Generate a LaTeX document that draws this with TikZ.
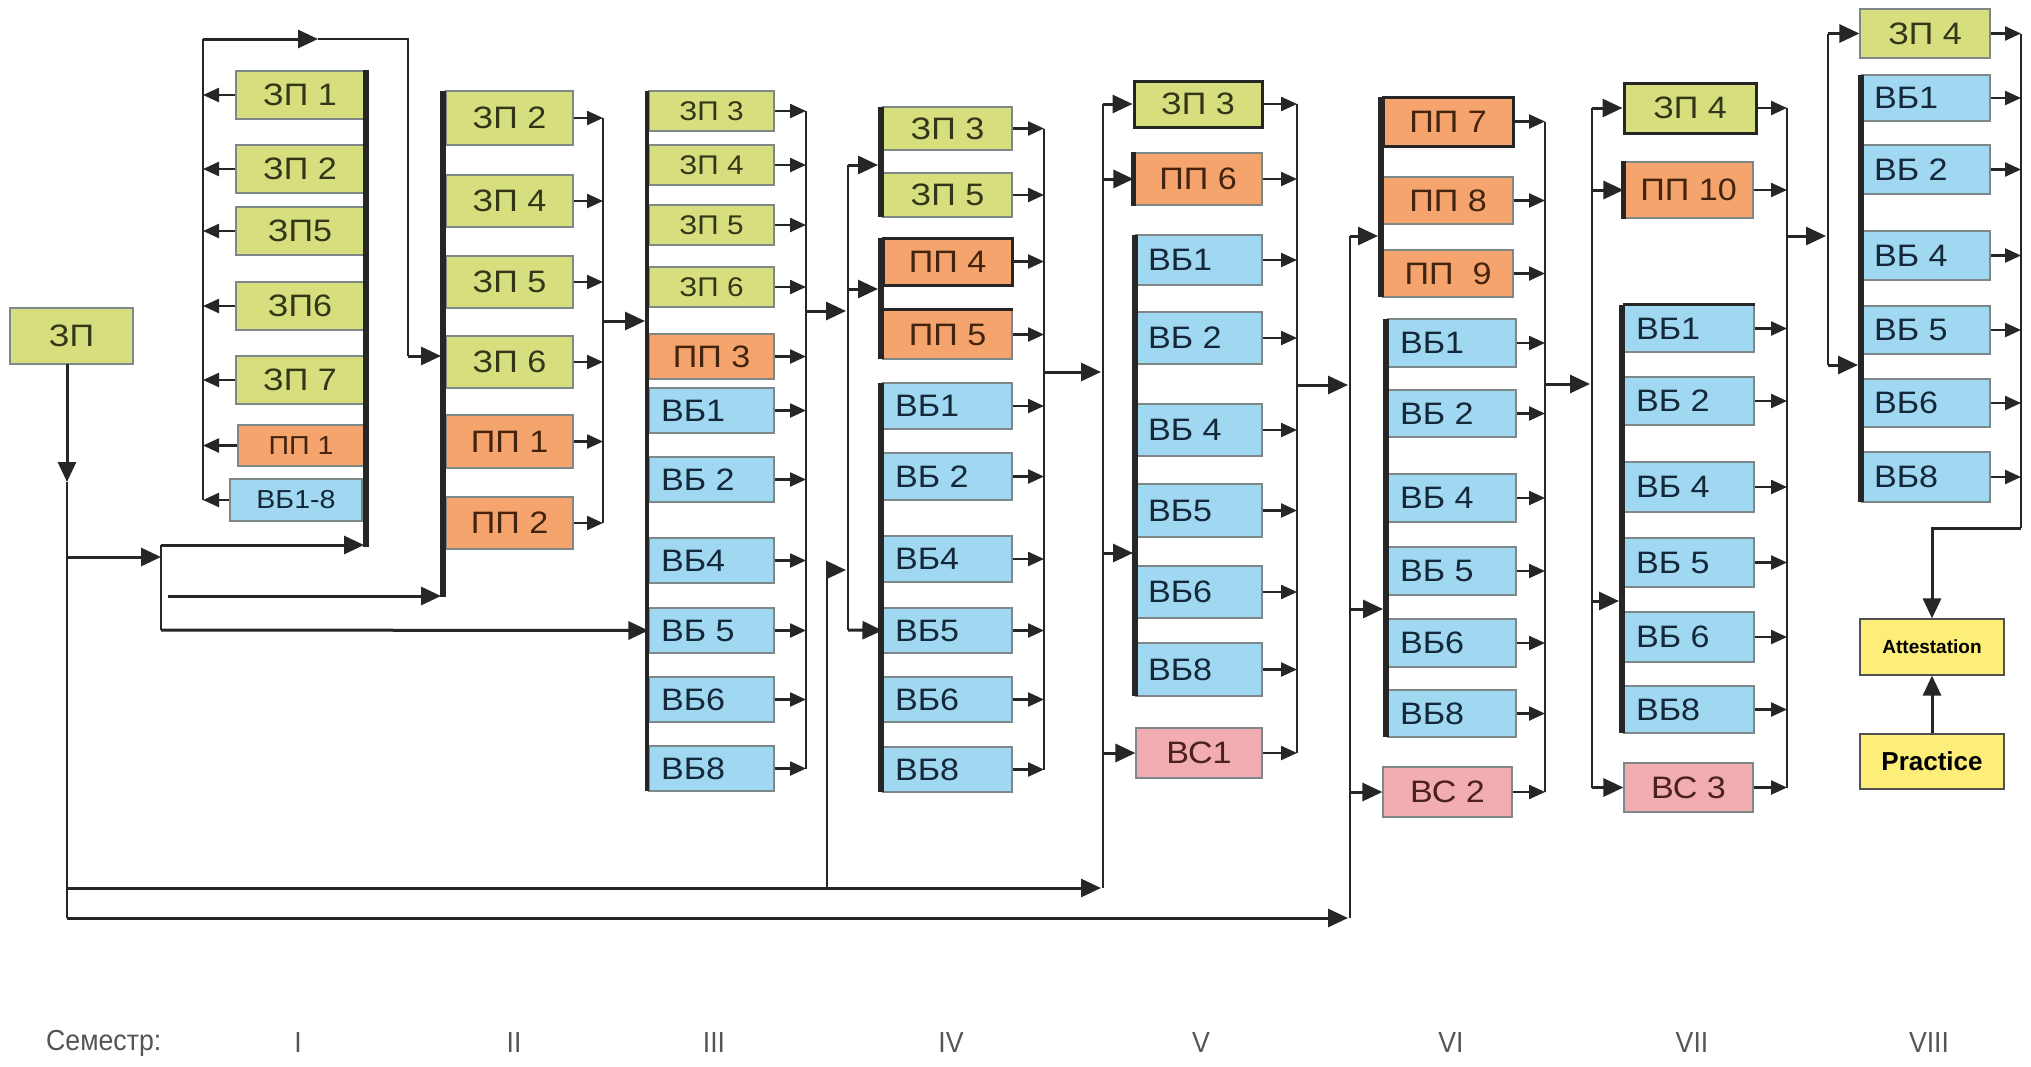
\documentclass[tikz,border=0pt]{standalone}
\usepackage{fontspec}
\setmainfont{Liberation Sans}[FakeStretch=1.1]
\newfontfamily\semfont{Liberation Sans}[FakeStretch=0.92]
\newfontfamily\plainsans{Liberation Sans}
\usetikzlibrary{arrows.meta}
\definecolor{zpc}{HTML}{D6DE7E}
\definecolor{ppc}{HTML}{F4A46C}
\definecolor{vbc}{HTML}{A0D7F1}
\definecolor{vsc}{HTML}{F2ADB3}
\definecolor{ylc}{HTML}{FCEE78}
\definecolor{bord}{HTML}{7F8888}
\definecolor{ink}{HTML}{262626}
\definecolor{zpt}{HTML}{34361A}
\definecolor{ppt}{HTML}{43240F}
\definecolor{vbt}{HTML}{14283A}
\definecolor{vst}{HTML}{4A2020}
\definecolor{semc}{HTML}{555555}
\newcommand\bx[7]{\pgfmathsetmacro\bxw{#4-#2}\pgfmathsetmacro\bxh{#5-#3}%
  \node[box,#6,minimum width=\bxw pt,minimum height=\bxh pt] (#1) at ({(#2+#4)/2},{(#3+#5)/2}) {#7};}
\newcommand\bl[7]{\pgfmathsetmacro\bxw{#4-#2}\pgfmathsetmacro\bxh{#5-#3}%
  \node[box,#6,minimum width=\bxw pt,minimum height=\bxh pt] (#1) at ({(#2+#4)/2},{(#3+#5)/2}) {\makebox[\dimexpr\bxw pt-24pt\relax][l]{#7}};}
\begin{document}
\begin{tikzpicture}[x=1pt,y=-1pt,
  box/.style={draw=bord,line width=1.2pt,inner sep=0pt,font=\fontsize{31}{33}\selectfont},
  zp/.style={fill=zpc,text=zpt},
  zps/.style={fill=zpc,text=zpt,font=\fontsize{27}{29}\selectfont},
  pp/.style={fill=ppc,text=ppt},
  vb/.style={fill=vbc,text=vbt},
  vs/.style={fill=vsc,text=vst},
  yl/.style={fill=ylc,draw=ink!80,text=black},
  dk/.style={draw=ink,line width=3pt},
  ln/.style={draw=ink,line width=2.8pt},
  sarr/.style={draw=ink,line width=2.4pt,-{Triangle[length=16pt,width=14pt]}},
  barr/.style={draw=ink,line width=3pt,-{Triangle[length=20pt,width=18pt]}},
  bar/.style={draw=ink,line width=5.5pt},
  tbar/.style={draw=ink,line width=3.2pt},
  sem/.style={font=\semfont\fontsize{29}{31}\selectfont,text=semc,inner sep=0pt}]
\fill[white] (0,0) rectangle (2031,1066);
\useasboundingbox (0,0) rectangle (2031,1066);

% ---------- start box and feed lines ----------
\bx{zp}{10}{308}{133}{364}{zp}{ЗП}
\coordinate (s0) at (67,364);
\coordinate (v0) at (67,482);
\coordinate (vA) at (67,888);
\coordinate (vB) at (67,918);
\coordinate (vbr) at (67,557);
\draw[barr] (s0) -- (v0);
\draw[ln] (v0) -- (vB);
\coordinate (k1) at (161,557);
\draw[barr] (vbr) -- (k1);
\draw[ln] (161,545) -- (161,630);

% ---------- column I ----------
\bx{a1}{236}{71}{364}{119}{zp}{ЗП 1}
\bx{a2}{236}{145}{364}{193}{zp}{ЗП 2}
\bx{a3}{236}{207}{364}{255}{zp}{ЗП5}
\bx{a4}{236}{282}{364}{330}{zp}{ЗП6}
\bx{a5}{236}{356}{364}{404}{zp}{ЗП 7}
\bx{a6}{238}{425}{364}{466}{pp,font=\fontsize{26}{28}\selectfont}{ПП 1}
\bx{a7}{230}{479}{362}{521}{vb,font=\fontsize{26}{28}\selectfont}{ВБ1-8}
\draw[bar] (366,70) -- (366,547);
\coordinate (L1) at (203,39);
\coordinate (T1) at (318,39);
\coordinate (R1) at (408,39);
\coordinate (Q1) at (408,356);
\foreach \n in {a1,a2,a3,a4,a5,a6,a7} \draw[sarr] (\n.west) -- (\n.west -| L1);
\draw[ln] (a7.west -| L1) -- (L1);
\draw[barr] (L1) -- (T1);
\draw[ln] (T1) -- (R1) -- (Q1);
\coordinate (B1) at (364,545);
\draw[barr] (161,545) -- (B1);

% ---------- column II ----------
\bx{b1}{446}{91}{573}{145}{zp}{ЗП 2}
\bx{b2}{446}{175}{573}{227}{zp}{ЗП 4}
\bx{b3}{446}{256}{573}{308}{zp}{ЗП 5}
\bx{b4}{446}{336}{573}{388}{zp}{ЗП 6}
\bx{b5}{446}{415}{573}{468}{pp}{ПП 1}
\bx{b6}{446}{497}{573}{549}{pp}{ПП 2}
\draw[bar] (443,91) -- (443,597);
\coordinate (R2) at (603,0);
\foreach \n in {b1,b2,b3,b4,b5,b6} \draw[sarr] (\n.east) -- (\n.east -| R2);
\draw[ln] (b1.east -| R2) -- (b6.east -| R2);
\coordinate (B2) at (441,0);
\draw[barr] (Q1) -- (Q1 -| B2);
\draw[barr] (168,596) -- (441,596);

% ---------- column III ----------
\bx{c1}{649}{91}{774}{131}{zps}{ЗП 3}
\bx{c2}{649}{145}{774}{185}{zps}{ЗП 4}
\bx{c3}{649}{205}{774}{245}{zps}{ЗП 5}
\bx{c4}{649}{267}{774}{307}{zps}{ЗП 6}
\bx{c5}{649}{334}{774}{379}{pp}{ПП 3}
\bl{c6}{649}{388}{774}{433}{vb}{ВБ1}
\bl{c7}{649}{457}{774}{502}{vb}{ВБ 2}
\bl{c8}{649}{538}{774}{583}{vb}{ВБ4}
\bl{c9}{649}{608}{774}{653}{vb}{ВБ 5}
\bl{c10}{649}{677}{774}{722}{vb}{ВБ6}
\bl{c11}{649}{746}{774}{791}{vb}{ВБ8}
\draw[tbar] (647,91) -- (647,791);
\coordinate (R3) at (806,0);
\foreach \n in {c1,c2,c3,c4,c5,c6,c7,c8,c9,c10,c11} \draw[sarr] (\n.east) -- (\n.east -| R3);
\draw[ln] (c1.east -| R3) -- (c11.east -| R3);
\draw[barr] (603,321) -- (645,321);
\draw[barr] (161,630) -- (c9.west);

% ---------- column IV ----------
\bx{d1}{883}{107}{1012}{150}{zp}{ЗП 3}
\bx{d2}{883}{173}{1012}{217}{zp}{ЗП 5}
\bx{d3}{883}{238}{1012}{285}{pp,dk}{ПП 4}
\bx{d4}{883}{310}{1012}{359}{pp}{ПП 5}
\draw[ink,line width=3pt] (d4.north west) -- (d4.north east);
\bl{d5}{883}{383}{1012}{429}{vb}{ВБ1}
\bl{d6}{883}{453}{1012}{500}{vb}{ВБ 2}
\bl{d7}{883}{536}{1012}{582}{vb}{ВБ4}
\bl{d8}{883}{608}{1012}{653}{vb}{ВБ5}
\bl{d9}{883}{677}{1012}{722}{vb}{ВБ6}
\bl{d10}{883}{747}{1012}{792}{vb}{ВБ8}
\draw[bar] (881,107) -- (881,217);
\draw[bar] (881,238) -- (881,359);
\draw[bar] (881,383) -- (881,792);
\coordinate (L4) at (848,0);
\coordinate (B4) at (878,0);
\draw[ln] (848,165) -- (848,630);
\draw[barr] (806,311) -- (846,311);
\draw[barr] (848,165) -- (878,165);
\draw[barr] (848,289) -- (878,289);
\draw[barr] (848,630) -- (d8.west);
\draw[ln] (827,888) -- (827,570);
\draw[barr] (827,570) -- (846,570);
\coordinate (R4) at (1044,0);
\foreach \n in {d1,d2,d3,d4,d5,d6,d7,d8,d9,d10} \draw[sarr] (\n.east) -- (\n.east -| R4);
\draw[ln] (d1.east -| R4) -- (d10.east -| R4);

% ---------- column V ----------
\bx{e1}{1134}{81}{1262}{127}{zp,dk}{ЗП 3}
\bx{e2}{1134}{153}{1262}{205}{pp}{ПП 6}
\draw[ink,line width=4.5pt] (e2.north west) -- (e2.south west);
\bl{e3}{1136}{235}{1262}{285}{vb}{ВБ1}
\bl{e4}{1136}{312}{1262}{364}{vb}{ВБ 2}
\bl{e5}{1136}{404}{1262}{456}{vb}{ВБ 4}
\bl{e6}{1136}{484}{1262}{537}{vb}{ВБ5}
\bl{e7}{1136}{566}{1262}{618}{vb}{ВБ6}
\bl{e8}{1136}{643}{1262}{696}{vb}{ВБ8}
\bx{e9}{1136}{728}{1262}{778}{vs}{ВС1}
\draw[bar] (1135,235) -- (1135,696);
\coordinate (L5) at (1103,0);
\draw[ln] (1103,104) -- (1103,888);
\draw[barr] (vA) -- (1101,888);
\draw[barr] (1044,372) -- (1101,372);
\draw[barr] (e1.west -| L5) -- (e1.west);
\draw[barr] (e2.west -| L5) -- (e2.west);
\draw[barr] (1103,553) -- (1133,553);
\draw[barr] (e9.west -| L5) -- (e9.west);
\coordinate (R5) at (1297,0);
\foreach \n in {e1,e2,e3,e4,e5,e6,e7,e8,e9} \draw[sarr] (\n.east) -- (\n.east -| R5);
\draw[ln] (e1.east -| R5) -- (e9.east -| R5);

% ---------- column VI ----------
\bx{f1}{1383}{97}{1513}{146}{pp,dk}{ПП 7}
\bx{f2}{1383}{177}{1513}{224}{pp}{ПП 8}
\bx{f3}{1383}{250}{1513}{297}{pp}{ПП \ 9}
\draw[bar] (1381,97) -- (1381,297);
\bl{f4}{1388}{319}{1516}{367}{vb}{ВБ1}
\bl{f5}{1388}{390}{1516}{437}{vb}{ВБ 2}
\bl{f6}{1388}{474}{1516}{522}{vb}{ВБ 4}
\bl{f7}{1388}{547}{1516}{595}{vb}{ВБ 5}
\bl{f8}{1388}{619}{1516}{667}{vb}{ВБ6}
\bl{f9}{1388}{690}{1516}{737}{vb}{ВБ8}
\draw[bar] (1386,319) -- (1386,737);
\bx{f10}{1383}{767}{1512}{817}{vs}{ВС 2}
\coordinate (L6) at (1350,0);
\draw[ln] (1350,236) -- (1350,918);
\draw[barr] (vB) -- (1348,918);
\draw[barr] (1297,385) -- (1348,385);
\draw[barr] (1350,236) -- (1378,236);
\draw[barr] (1350,609) -- (1383,609);
\draw[barr] (f10.west -| L6) -- (f10.west);
\coordinate (R6) at (1545,0);
\foreach \n in {f1,f2,f3,f4,f5,f6,f7,f8,f9,f10} \draw[sarr] (\n.east) -- (\n.east -| R6);
\draw[ln] (f1.east -| R6) -- (f10.east -| R6);

% ---------- column VII ----------
\bx{g1}{1624}{83}{1756}{133}{zp,dk}{ЗП 4}
\bx{g2}{1624}{162}{1753}{218}{pp}{ПП 10}
\draw[ink,line width=4.5pt] (g2.north west) -- (g2.south west);
\bl{g3}{1624}{305}{1754}{352}{vb}{ВБ1}
\draw[ink,line width=2.4pt] (g3.north west) -- (g3.north east);
\bl{g4}{1624}{377}{1754}{425}{vb}{ВБ 2}
\bl{g5}{1624}{462}{1754}{512}{vb}{ВБ 4}
\bl{g6}{1624}{538}{1754}{587}{vb}{ВБ 5}
\bl{g7}{1624}{612}{1754}{662}{vb}{ВБ 6}
\bl{g8}{1624}{686}{1754}{733}{vb}{ВБ8}
\bx{g9}{1624}{763}{1753}{812}{vs}{ВС 3}
\draw[bar] (1622,305) -- (1622,733);
\coordinate (L7) at (1592,0);
\draw[ln] (g1.west -| L7) -- (g9.west -| L7);
\draw[barr] (1545,384) -- (1590,384);
\draw[barr] (g1.west -| L7) -- (g1.west);
\draw[barr] (g2.west -| L7) -- (g2.west);
\draw[barr] (1592,601) -- (1619,601);
\draw[barr] (g9.west -| L7) -- (g9.west);
\coordinate (R7) at (1787,0);
\foreach \n in {g1,g2,g3,g4,g5,g6,g7,g8,g9} \draw[sarr] (\n.east) -- (\n.east -| R7);
\draw[ln] (g1.east -| R7) -- (g9.east -| R7);

% ---------- column VIII ----------
\bx{h1}{1860}{9}{1990}{58}{zp}{ЗП 4}
\bl{h2}{1862}{75}{1990}{121}{vb}{ВБ1}
\bl{h3}{1862}{145}{1990}{194}{vb}{ВБ 2}
\bl{h4}{1862}{231}{1990}{280}{vb}{ВБ 4}
\bl{h5}{1862}{306}{1990}{354}{vb}{ВБ 5}
\bl{h6}{1862}{379}{1990}{427}{vb}{ВБ6}
\bl{h7}{1862}{452}{1990}{502}{vb}{ВБ8}
\draw[bar] (1861,75) -- (1861,502);
\coordinate (L8) at (1828,0);
\draw[ln] (h1.west -| L8) -- (1828,365);
\draw[barr] (1787,236) -- (1826,236);
\draw[barr] (h1.west -| L8) -- (h1.west);
\draw[barr] (1828,365) -- (1858,365);
\coordinate (R8) at (2021,0);
\foreach \n in {h1,h2,h3,h4,h5,h6,h7} \draw[sarr] (\n.east) -- (\n.east -| R8);
\coordinate (K8) at (2021,528);
\draw[ln] (h1.east -| R8) -- (K8);

\bx{att}{1860}{619}{2004}{675}{yl,font=\plainsans\bfseries\fontsize{19}{21}\selectfont}{Attestation}
\bx{pr}{1860}{734}{2004}{789}{yl,font=\plainsans\bfseries\fontsize{26}{28}\selectfont}{Practice}
\draw[barr] (K8) -| (att.north);
\draw[barr] (pr.north) -- (att.south);

% ---------- semester labels ----------
\node[sem,anchor=west] (sem0) at (46,1043) {Семестр:};
\node[sem] (s1) at (298,1043) {I};
\node[sem] (s2) at (514,1043) {II};
\node[sem] (s3) at (714,1043) {III};
\node[sem] (s4) at (951,1043) {IV};
\node[sem] (s5) at (1201,1043) {V};
\node[sem] (s6) at (1451,1043) {VI};
\node[sem] (s7) at (1692,1043) {VII};
\node[sem] (s8) at (1929,1043) {VIII};
\end{tikzpicture}
\end{document}
